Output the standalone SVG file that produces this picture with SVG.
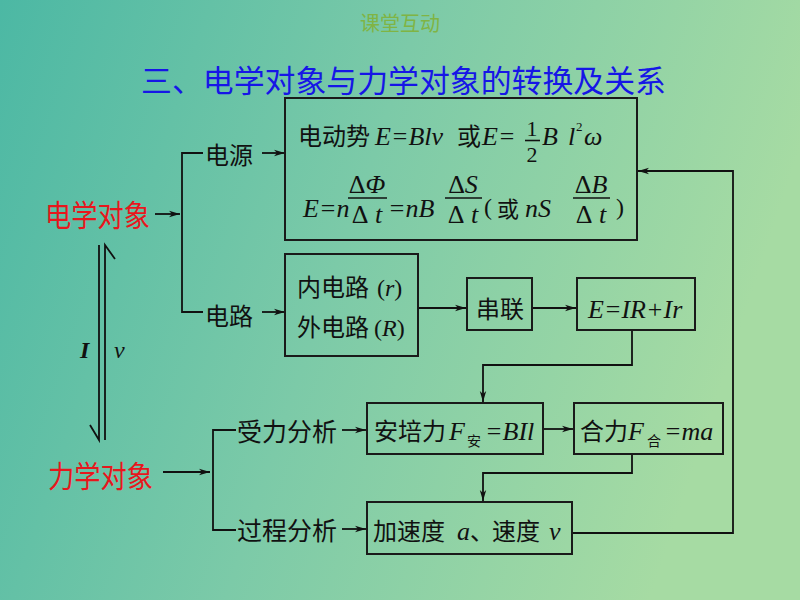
<svg xmlns="http://www.w3.org/2000/svg" width="800" height="600" viewBox="0 0 800 600">
<defs>
<linearGradient id="bg" x1="0" y1="0" x2="1" y2="0.25">
<stop offset="0" stop-color="#4cb8a4"/>
<stop offset="0.5" stop-color="#7ccaa8"/>
<stop offset="1" stop-color="#a6dba3"/>
</linearGradient>
<marker id="ah" markerUnits="userSpaceOnUse" markerWidth="12" markerHeight="8" refX="11" refY="4" orient="auto">
<path d="M0,0.8 L11,4 L0,7.2 L3,4 Z" fill="#111"/>
</marker>
<style>
.cjk{font-family:"Noto Sans CJK SC","Noto Sans",sans-serif;fill:#111;}
.m{font-family:"Liberation Serif",serif;font-style:italic;fill:#111;}
.u{font-family:"Liberation Serif",serif;fill:#111;}
.box{fill:none;stroke:#1a1a1a;stroke-width:2;}
.ln{fill:none;stroke:#111;stroke-width:1.8;}
.bar{stroke:#111;stroke-width:1.6;}
.red{font-family:"Noto Sans CJK SC",sans-serif;fill:#e8161c;}
</style>
</defs>
<rect x="0" y="0" width="800" height="600" fill="url(#bg)"/>

<g id="header">
<text x="400" y="31" text-anchor="middle" font-family="Noto Sans CJK SC, sans-serif" font-size="20" fill="#80b444">课堂互动</text>
<text x="141" y="92" font-family="Noto Sans CJK SC, sans-serif" font-size="31" fill="#1616e6" textLength="525" lengthAdjust="spacingAndGlyphs">三、电学对象与力学对象的转换及关系</text>
</g>

<g id="connectors">
<line class="ln" x1="155" y1="214" x2="180" y2="214" marker-end="url(#ah)"/>
<path class="ln" d="M203,153 H182 V312 H203"/>
<line class="ln" x1="262" y1="153" x2="285" y2="153" marker-end="url(#ah)"/>
<line class="ln" x1="262" y1="312" x2="285" y2="312" marker-end="url(#ah)"/>
<line class="ln" x1="418" y1="308" x2="466" y2="308" marker-end="url(#ah)"/>
<line class="ln" x1="532" y1="308" x2="576" y2="308" marker-end="url(#ah)"/>
<path class="ln" d="M632,330 V365 H483 V402" marker-end="url(#ah)"/>
<line class="ln" x1="163" y1="472" x2="210" y2="472" marker-end="url(#ah)"/>
<path class="ln" d="M236,430 H213 V530 H236"/>
<line class="ln" x1="342" y1="430" x2="366" y2="430" marker-end="url(#ah)"/>
<line class="ln" x1="342" y1="529" x2="366" y2="529" marker-end="url(#ah)"/>
<line class="ln" x1="543" y1="429" x2="573" y2="429" marker-end="url(#ah)"/>
<path class="ln" d="M632,454 V473 H483 V501" marker-end="url(#ah)"/>
<path class="ln" d="M572,533 H733 V171 H638" marker-end="url(#ah)"/>
<path class="ln" d="M99,245 V440 L90,425"/>
<path class="ln" d="M105,440 V245 L115,259"/>
</g>

<g id="label-IV" font-size="24">
<text class="m" x="80" y="358" font-weight="bold">I</text>
<text class="m" x="114" y="358">v</text>
</g>

<g id="elec">
<text class="red" x="45" y="226" font-size="30" textLength="105" lengthAdjust="spacingAndGlyphs">电学对象</text>
</g>
<g id="mech">
<text class="red" x="48" y="487" font-size="30" textLength="105" lengthAdjust="spacingAndGlyphs">力学对象</text>
</g>

<g id="source">
<text class="cjk" x="205" y="164" font-size="24">电源</text>
</g>
<g id="circuit">
<text class="cjk" x="205" y="325" font-size="24">电路</text>
</g>
<g id="force-analysis">
<text class="cjk" x="237" y="441" font-size="25">受力分析</text>
</g>
<g id="process-analysis">
<text class="cjk" x="237" y="540" font-size="25">过程分析</text>
</g>

<g id="emf-box" font-size="26">
<rect class="box" x="285" y="98" width="352" height="142"/>
<text class="cjk" x="298" y="145" font-size="24">电动势</text>
<text class="m" x="375" y="145">E=Blv</text>
<text class="cjk" x="457" y="145" font-size="24">或</text>
<text class="m" x="482" y="145">E=</text>
<text class="u" x="532" y="136" font-size="22" text-anchor="middle">1</text>
<line class="bar" x1="525" y1="140.5" x2="540" y2="140.5"/>
<text class="u" x="532" y="161.5" font-size="22" text-anchor="middle">2</text>
<text class="m" x="542" y="145">B</text>
<text class="m" x="568" y="145">l</text>
<text class="u" x="576" y="131" font-size="13">2</text>
<text class="m" x="584" y="145">ω</text>

<text class="m" x="303" y="217">E=n</text>
<text class="m" x="367" y="193" text-anchor="middle"><tspan font-style="normal">Δ</tspan>Φ</text>
<line class="bar" x1="348" y1="198" x2="387" y2="198"/>
<text class="m" x="367" y="223" text-anchor="middle"><tspan font-style="normal">Δ</tspan> t</text>
<text class="m" x="388" y="217">=nB</text>
<text class="m" x="463" y="193" text-anchor="middle"><tspan font-style="normal">Δ</tspan>S</text>
<line class="bar" x1="445" y1="198" x2="482" y2="198"/>
<text class="m" x="463" y="223" text-anchor="middle"><tspan font-style="normal">Δ</tspan> t</text>
<text class="u" x="484" y="215" font-size="24">(</text>
<text class="cjk" x="497" y="217" font-size="22">或</text>
<text class="m" x="525" y="217">nS</text>
<text class="m" x="591" y="193" text-anchor="middle"><tspan font-style="normal">Δ</tspan>B</text>
<line class="bar" x1="573" y1="198" x2="610" y2="198"/>
<text class="m" x="591" y="223" text-anchor="middle"><tspan font-style="normal">Δ</tspan> t</text>
<text class="u" x="616" y="215" font-size="24">)</text>
</g>

<g id="circuit-box" font-size="24">
<rect class="box" x="285" y="254" width="133" height="102"/>
<text class="cjk" x="297" y="296">内电路</text>
<text class="u" x="377" y="296">(<tspan font-style="italic">r</tspan>)</text>
<text class="cjk" x="297" y="336">外电路</text>
<text class="u" x="374" y="336">(<tspan font-style="italic">R</tspan>)</text>
</g>

<g id="series-box">
<rect class="box" x="467" y="278" width="65" height="52"/>
<text class="cjk" x="476" y="318" font-size="24">串联</text>
</g>

<g id="eir-box" font-size="26">
<rect class="box" x="577" y="278" width="118" height="52"/>
<text class="m" x="588" y="318">E=IR+Ir</text>
</g>

<g id="ampere-box" font-size="26">
<rect class="box" x="367" y="403" width="176" height="51"/>
<text class="cjk" x="374" y="440" font-size="24">安培力</text>
<text class="m" x="449" y="440">F</text>
<text class="cjk" x="467" y="446" font-size="14">安</text>
<text class="m" x="485" y="440">=BIl</text>
</g>

<g id="net-force-box" font-size="26">
<rect class="box" x="574" y="403" width="149" height="51"/>
<text class="cjk" x="580" y="440" font-size="24">合力</text>
<text class="m" x="628" y="440">F</text>
<text class="cjk" x="647" y="446" font-size="14">合</text>
<text class="m" x="664" y="440">=ma</text>
</g>

<g id="accel-box" font-size="26">
<rect class="box" x="367" y="502" width="205" height="52"/>
<text class="cjk" x="373" y="540" font-size="24">加速度</text>
<text class="m" x="457" y="540">a</text>
<text class="cjk" x="470" y="540" font-size="24">、</text>
<text class="cjk" x="492" y="540" font-size="24">速度</text>
<text class="m" x="549" y="540">v</text>
</g>
</svg>
